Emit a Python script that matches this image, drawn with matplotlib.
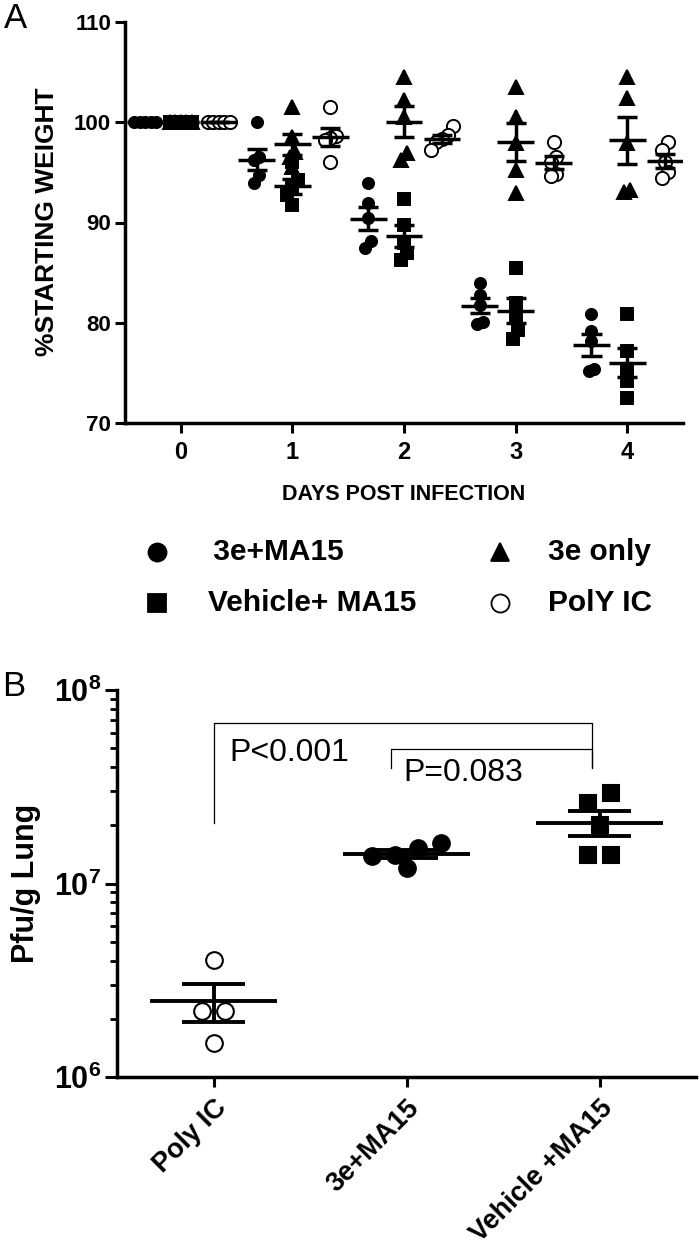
import numpy as np
import matplotlib
matplotlib.use('Agg')
import matplotlib.pyplot as plt
from matplotlib.ticker import LogLocator, NullFormatter

# ---- panel A : % starting weight, 5 mice per group ----
days = [0, 1, 2, 3, 4]
w_3e_ma15 = [[100, 100, 100, 100, 100],
             [100.0, 96.5, 96.2, 94.7, 93.9],
             [93.9, 91.9, 90.4, 88.2, 87.5],
             [84.0, 82.8, 81.8, 80.1, 79.9],
             [80.9, 79.2, 78.2, 75.2, 75.4]]
w_vehicle_ma15 = [[100, 100, 100, 100, 100],
                  [96.0, 94.2, 93.4, 92.7, 91.7],
                  [92.3, 89.8, 88.0, 87.0, 86.3],
                  [85.5, 82.0, 80.8, 79.3, 78.4],
                  [80.9, 77.2, 75.2, 74.2, 72.5]]
w_3e_only = [[100, 100, 100, 100, 100],
             [101.5, 98.5, 97.0, 96.5, 95.5],
             [104.5, 102.2, 100.5, 96.2, 96.9],
             [103.5, 100.5, 97.9, 95.2, 92.9],
             [104.5, 102.4, 97.9, 93.2, 93.0]]
w_polyic = [[100, 100, 100, 100, 100],
            [101.5, 98.6, 98.4, 98.2, 96.0],
            [99.6, 98.7, 98.3, 98.0, 97.2],
            [98.0, 96.5, 96.0, 94.8, 94.6],
            [98.0, 97.2, 96.0, 95.0, 94.4]]

# ---- panel B : Pfu/g lung ----
b_groups = ['Poly IC', '3e+MA15', 'Vehicle +MA15']
pfu_polyic = [4.03e6, 2.19e6, 2.19e6, 1.50e6]
pfu_3e_ma15 = [1.61e7, 1.52e7, 1.40e7, 1.39e7, 1.20e7]
pfu_vehicle = [2.93e7, 2.60e7, 2.00e7, 1.40e7, 1.40e7]

plt.rcParams['font.family'] = ['Liberation Sans', 'DejaVu Sans']
plt.rcParams['font.weight'] = 'bold'
plt.rcParams['mathtext.fontset'] = 'custom'
plt.rcParams['mathtext.rm'] = 'Liberation Sans:bold'
plt.rcParams['mathtext.bf'] = 'Liberation Sans:bold'


def swarm(vals, center, step, thr):
    # spread points that sit on top of each other, symmetric about the center
    order = np.argsort(vals)
    xs = np.zeros(len(vals))
    cluster = [order[0]]
    clusters = []
    for i in order[1:]:
        if vals[i] - vals[cluster[-1]] < thr:
            cluster.append(i)
        else:
            clusters.append(cluster)
            cluster = [i]
    clusters.append(cluster)
    for c in clusters:
        n = len(c)
        for k, i in enumerate(c):
            xs[i] = center + (k - (n - 1) / 2.0) * step
    return xs


def mean_sem(ax, x, vals, half, cap, lw):
    m = np.mean(vals)
    s = np.std(vals, ddof=1) / np.sqrt(len(vals))
    ax.hlines(m, x - half, x + half, color='black', lw=lw, zorder=5)
    ax.vlines(x, m - s, m + s, color='black', lw=lw, zorder=5)
    ax.hlines([m - s, m + s], x - cap, x + cap, color='black', lw=lw, zorder=5)


fig = plt.figure(figsize=(7, 12.52), dpi=100)

# ================= panel A =================
axA = fig.add_axes([125 / 700, 1 - 423 / 1252, 558 / 700, 401 / 1252])
series_a = [
    (w_3e_only, '^', 'black', 0.0, 10.0),
    (w_vehicle_ma15, 's', 'black', 0.0, 8.0),
    (w_3e_ma15, 'o', 'black', -0.32, 8.0),
    (w_polyic, 'o', 'white', 0.34, 9.5),
]
for vals_by_day, mk, face, off, ms in series_a:
    for d, v in zip(days, vals_by_day):
        v = np.array(v, float)
        xs = swarm(v, d + off, 0.05, 0.9)
        axA.plot(xs, v, ls='none', marker=mk, ms=ms, mfc=face, mec='black',
                 mew=1.4, zorder=3)
        mean_sem(axA, d + off, v, 0.165, 0.09, 2.5)

axA.set_xlim(-0.5, 4.5)
axA.set_ylim(70, 110)
axA.set_yticks([70, 80, 90, 100, 110])
axA.set_xticks(days)
for s in ['top', 'right']:
    axA.spines[s].set_visible(False)
for s in ['left', 'bottom']:
    axA.spines[s].set_linewidth(2.5)
axA.tick_params(axis='y', length=7, width=2.2, labelsize=16, pad=3)
axA.tick_params(axis='x', length=7, width=2.2, labelsize=17, pad=6)
axA.set_xlabel('DAYS POST INFECTION', fontsize=15.5, fontweight='bold', labelpad=14)
fig.text(47 / 700, 1 - 222 / 1252, '%STARTING WEIGHT', rotation=90,
         ha='center', va='center', fontsize=19)
fig.text(15 / 700, 1 - 18 / 1252, 'A', ha='center', va='center',
         fontsize=25, fontweight='normal')

# legend drawn in pixel space below panel A
axL = fig.add_axes([0, 0, 1, 1])
axL.set_xlim(0, 700)
axL.set_ylim(1252, 0)
axL.axis('off')
leg_items = [
    ('o', 'black', ' 3e+MA15', 157, 552, 205),
    ('s', 'black', 'Vehicle+ MA15', 157, 603, 208),
    ('^', 'black', '3e only', 500, 552, 548),
    ('o', 'white', 'PolY IC', 500, 603, 548),
]
for mk, face, lab, mx, my, tx in leg_items:
    axL.plot([mx], [my], ls='none', marker=mk, ms=13, mfc=face, mec='black', mew=1.3)
    axL.text(tx, my, lab, ha='left', va='center', fontsize=21.5)

# ================= panel B =================
axB = fig.add_axes([117 / 700, 1 - 1077 / 1252, 579 / 700, 387 / 1252])
series_b = [
    (pfu_polyic, 'o', 'white', 12.0),
    (pfu_3e_ma15, 'o', 'black', 12.0),
    (pfu_vehicle, 's', 'black', 11.5),
]
for i, (vals, mk, face, ms) in enumerate(series_b):
    v = np.array(vals, float)
    xs = swarm(np.log10(v), i, 0.12, 0.06)
    axB.plot(xs, v, ls='none', marker=mk, ms=ms, mfc=face, mec='black',
             mew=1.5, zorder=3)
    mean_sem(axB, i, v, 0.33, 0.165, 2.8)

axB.set_yscale('log')
axB.set_ylim(1e6, 1e8)
axB.set_xlim(-0.5, 2.5)
axB.set_yticks([1e6, 1e7, 1e8])
axB.set_yticklabels([r'$10^{6}$', r'$10^{7}$', r'$10^{8}$'])
axB.yaxis.set_minor_locator(LogLocator(base=10, subs=range(2, 10)))
axB.yaxis.set_minor_formatter(NullFormatter())
axB.set_xticks(range(len(b_groups)))
axB.set_xticklabels(b_groups, rotation=45, ha='right', va='top',
                    rotation_mode='anchor', fontsize=19.5)
for s in ['top', 'right']:
    axB.spines[s].set_visible(False)
for s in ['left', 'bottom']:
    axB.spines[s].set_linewidth(2.5)
axB.tick_params(axis='y', which='major', length=8.5, width=2.2, labelsize=22, pad=3)
axB.tick_params(axis='y', which='minor', length=5, width=2.0)
axB.tick_params(axis='x', length=7, width=2.2, pad=6)
fig.text(26 / 700, 1 - 883 / 1252, 'Pfu/g Lung', rotation=90,
         ha='center', va='center', fontsize=22)
fig.text(14 / 700, 1 - 686 / 1252, 'B', ha='center', va='center',
         fontsize=25, fontweight='normal')

# significance brackets
axB.plot([0, 0, 1.96, 1.96], [2.05e7, 6.73e7, 6.73e7, 4.02e7], color='black', lw=0.9)
axB.plot([0.92, 0.92, 1.96, 1.96], [3.94e7, 4.94e7, 4.94e7, 3.94e7], color='black', lw=0.9)
axB.text(0.083, 4.7e7, 'P<0.001', ha='left', va='center', fontsize=23,
         fontweight='normal')
axB.text(0.985, 3.72e7, 'P=0.083', ha='left', va='center', fontsize=23,
         fontweight='normal')

fig.savefig('out.png', dpi=100)
